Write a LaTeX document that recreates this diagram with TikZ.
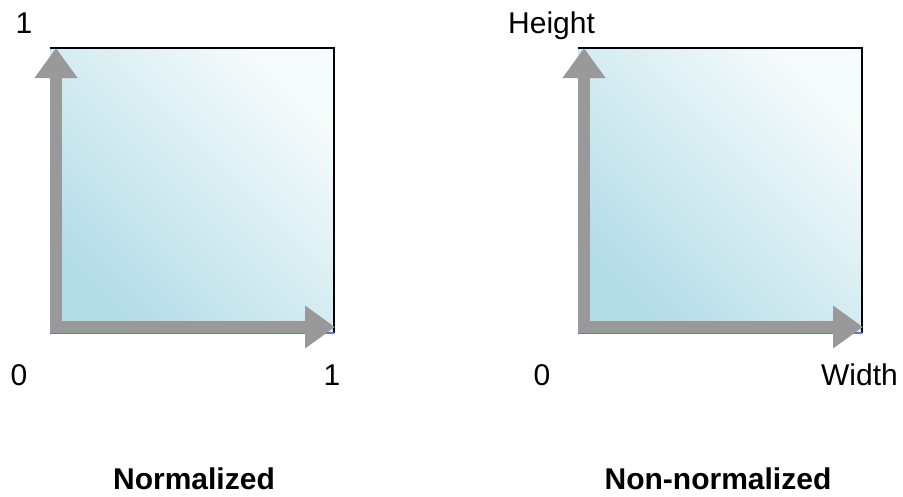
\documentclass[tikz,border=0pt]{standalone}
\usepackage{fontspec}
\setmainfont{Liberation Sans}
\usetikzlibrary{arrows.meta}
\definecolor{palgray}{HTML}{999999}
\definecolor{palblue}{HTML}{B2DCE6}
\definecolor{palwhite}{HTML}{F6FBFC}
\definecolor{paledge}{HTML}{7070D0}
\colorlet{caxis}{palgray}
\colorlet{cfill}{palblue}
\colorlet{cfade}{palwhite}
\colorlet{cunder}{paledge}
\tikzset{
  unitsq/.style={minimum width=284pt, minimum height=285pt, inner sep=0, outer sep=0,
    bottom color=cfill, top color=cfade, shading angle=-45},
  axisarrow/.style={draw=caxis, line width=12pt, -{Triangle[width=41pt,length=30pt]}},
  lbl/.style={inner sep=0, anchor=base, font=\fontsize{30}{36}\selectfont},
  caption/.style={lbl, font=\fontsize{30}{36}\selectfont\bfseries}
}
\begin{document}
\begin{tikzpicture}[x=1pt,y=-1pt]
  \useasboundingbox (0,0) rectangle (903,496);
  \path
  (192,190.5) node[unitsq] (normsq) {}
  (720,190.5) node[unitsq] (rawsq) {};
  \foreach \sq in {normsq,rawsq} {
    \draw[line width=1.6pt] (\sq.north west) -- (\sq.north east) -- (\sq.south east);
    \draw[cunder, line width=1.2pt] (\sq.south west) -- (\sq.south east);
    \draw[axisarrow] ([xshift=6pt]\sq.south west) -- ([xshift=6pt]\sq.north west);
    \draw[axisarrow] ([yshift=6pt]\sq.south west) -- ([xshift=1pt,yshift=6pt]\sq.south east);
  }
  \path
  (24,33) node[lbl] (normtop) {1}
  (19,385) node[lbl] (normzero) {0}
  (332,385) node[lbl] (normone) {1}
  (194,489) node[caption] (normcap) {Normalized}
  (508,33) node[lbl, anchor=base west] (rawtop) {Height}
  (542,385) node[lbl] (rawzero) {0}
  (898,385) node[lbl, anchor=base east] (rawone) {Width}
  (718,489) node[caption] (rawcap) {Non-normalized};
\end{tikzpicture}
\end{document}
